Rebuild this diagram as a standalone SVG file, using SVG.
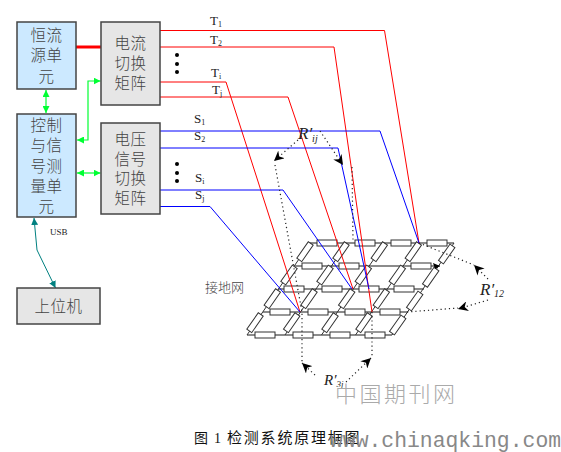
<svg xmlns="http://www.w3.org/2000/svg" width="561" height="452" viewBox="0 0 561 452">
<style>
text{font-family:"Liberation Serif","Noto Sans CJK SC",serif;fill:#222}
.cn{font-family:"Noto Sans CJK SC",sans-serif;font-size:15.500px;letter-spacing:0.500px;fill:#444;text-anchor:middle;font-weight:300}
.box{stroke:#444;stroke-width:1.5}
.blue{fill:#cce9ff}.gray{fill:#e6e6e6}
.lab{font-size:13px}
.sub{font-size:8px}
.r{font-size:17px;font-style:italic}
.rs{font-size:10px;font-style:italic}
.red{fill:none;stroke:#f00;stroke-width:1}
.blu{fill:none;stroke:#00f;stroke-width:1}
.grn{fill:none;stroke:#0f3;stroke-width:1.2;marker-start:url(#ga);marker-end:url(#ga)}
.dot{fill:none;stroke:#222;stroke-width:1.2;stroke-dasharray:1.2 3}
.dota{marker-end:url(#ba)}
.gl{stroke:#666;stroke-width:1.6}
.dl{stroke:#333;stroke-width:1}
.res{fill:#fff;stroke:#333;stroke-width:1}
</style>
<defs>
<marker id="ga" viewBox="0 0 10 10" refX="10" refY="5" markerUnits="userSpaceOnUse" markerWidth="7" markerHeight="7" orient="auto-start-reverse"><path d="M0 0L10 5L0 10Z" fill="#0f3"/></marker>
<marker id="ta" viewBox="0 0 10 10" refX="10" refY="5" markerUnits="userSpaceOnUse" markerWidth="7" markerHeight="7" orient="auto-start-reverse"><path d="M0 0L10 5L0 10Z" fill="#008080"/></marker>
<marker id="ba" viewBox="0 0 10 10" refX="10" refY="5" markerUnits="userSpaceOnUse" markerWidth="10" markerHeight="10" orient="auto"><path d="M0 0L10 5L0 10L3 5Z" fill="#000"/></marker>
<rect id="rh" x="-10" y="-3" width="20" height="6" class="res"/>
</defs>

<g id="grid">
<path class="gl" d="M310 243H454M295 266H440M278 289H424M263 312H408M247 335H392"/>
<path class="dl" d="M247 335L310 243M285 335L347 243M321.500 335L385 243M355.500 335L419 243M392 335L454 243"/>
<g id="resistors-h">
<use href="#rh" x="327" y="243"/><use href="#rh" x="365" y="243"/><use href="#rh" x="401" y="243"/><use href="#rh" x="437" y="243"/>
<use href="#rh" x="312" y="266"/><use href="#rh" x="349" y="266"/><use href="#rh" x="421" y="266"/>
<use href="#rh" x="294" y="289"/><use href="#rh" x="332" y="289"/><use href="#rh" x="369" y="289"/><use href="#rh" x="404" y="289"/>
<use href="#rh" x="280" y="312"/><use href="#rh" x="318" y="312"/><use href="#rh" x="355" y="312"/><use href="#rh" x="390" y="312"/>
<use href="#rh" x="265" y="335"/><use href="#rh" x="303" y="335"/><use href="#rh" x="340" y="335"/><use href="#rh" x="375" y="335"/>
</g>
<g id="resistors-d">
<use href="#rh" transform="translate(255 322.700) rotate(-55)"/><use href="#rh" transform="translate(272.300 298.700) rotate(-55)"/><use href="#rh" transform="translate(289 275) rotate(-55)"/><use href="#rh" transform="translate(305 251.700) rotate(-55)"/>
<use href="#rh" transform="translate(291.700 322.700) rotate(-55)"/><use href="#rh" transform="translate(309 298.700) rotate(-55)"/><use href="#rh" transform="translate(325 275) rotate(-55)"/><use href="#rh" transform="translate(341 251.700) rotate(-55)"/>
<use href="#rh" transform="translate(330 322.700) rotate(-55)"/><use href="#rh" transform="translate(346.700 298.700) rotate(-55)"/><use href="#rh" transform="translate(363.300 275) rotate(-55)"/><use href="#rh" transform="translate(379.300 251.700) rotate(-55)"/>
<use href="#rh" transform="translate(364 322.700) rotate(-55)"/><use href="#rh" transform="translate(381.300 298.700) rotate(-55)"/><use href="#rh" transform="translate(397.300 275) rotate(-55)"/><use href="#rh" transform="translate(413.300 251.700) rotate(-55)"/>
<use href="#rh" transform="translate(397.700 325) rotate(-55)"/><use href="#rh" transform="translate(414.700 301) rotate(-55)"/><use href="#rh" transform="translate(430.700 277.300) rotate(-55)"/><use href="#rh" transform="translate(446.700 254) rotate(-55)"/>
</g>
</g>

<g id="connectors">
<path class="red" d="M160 30.500H384.500L419 243"/>
<path class="red" d="M160 47H334L372 312"/>
<path class="red" d="M160 82H226L300 312"/>
<path class="red" d="M160 97H288L353 289"/>
<path class="blu" d="M160 131H380L419 243"/>
<path class="blu" d="M160 148H338L369 289"/>
<path class="blu" d="M160 190H283L352 289"/>
<path class="blu" d="M160 206.500H210L300 312"/>
<path fill="none" stroke="#f00" stroke-width="3" d="M76 47H102"/>
<path class="grn" d="M46 90V113"/>
<path class="grn" d="M100.500 81H88V140H77"/>
<path class="grn" d="M77 173H100.500"/>
<path fill="none" stroke="#008080" stroke-width="1" marker-start="url(#ta)" marker-end="url(#ta)" d="M34 218L37 250L55.500 288"/>
<path class="dot dota" d="M298 140L274 161"/>
<path class="dot" d="M275 165L302 312V362"/>
<path class="dot dota" d="M320 131L343 165"/>
<path class="dot" d="M352 167L353 240M372 312V358"/>
<path class="dot dota" d="M315 375L302 363"/>
<path class="dot dota" d="M346 382L371 358"/>
<path class="dot" d="M419 243L474 265M407 312L458 308"/>
<path class="dot dota" d="M488 279L474 265"/>
<path class="dot dota" d="M488 300L458 309"/>
<path fill="#000" d="M433 263L440 266L435 269Z"/>
</g>

<g id="n1"><rect class="box blue" x="17" y="22" width="59" height="67"/>
<text class="cn" x="46.500" y="41">恒流</text><text class="cn" x="46.500" y="61">源单</text><text class="cn" x="46.500" y="82">元</text></g>
<g id="n2"><rect class="box blue" x="17" y="114" width="59" height="103"/>
<text class="cn" x="46.500" y="131">控制</text><text class="cn" x="46.500" y="151">与信</text><text class="cn" x="46.500" y="172">号测</text><text class="cn" x="46.500" y="192">量单</text><text class="cn" x="46.500" y="212">元</text></g>
<g id="n3"><rect class="box gray" x="101" y="22" width="59" height="83"/>
<text class="cn" x="130.500" y="49">电流</text><text class="cn" x="130.500" y="69">切换</text><text class="cn" x="130.500" y="89">矩阵</text></g>
<g id="n4"><rect class="box gray" x="101" y="123" width="59" height="91"/>
<text class="cn" x="130.500" y="145">电压</text><text class="cn" x="130.500" y="165">信号</text><text class="cn" x="130.500" y="184">切换</text><text class="cn" x="130.500" y="204">矩阵</text></g>
<g id="n5"><rect class="box gray" x="17" y="288" width="83" height="36"/>
<text class="cn" x="58.500" y="312">上位机</text></g>

<g id="dots" fill="#000"><circle cx="177" cy="55" r="2"/><circle cx="177" cy="64" r="2"/><circle cx="177" cy="72" r="2"/><circle cx="177" cy="164" r="2"/><circle cx="177" cy="173" r="2"/><circle cx="177" cy="181" r="2"/></g>

<g id="labels">
<text class="lab" x="210" y="25">T<tspan class="sub" dy="2">1</tspan></text>
<text class="lab" x="210" y="44">T<tspan class="sub" dy="2">2</tspan></text>
<text class="lab" x="211" y="77">T<tspan class="sub" dy="2">i</tspan></text>
<text class="lab" x="212" y="94">T<tspan class="sub" dy="2">j</tspan></text>
<text class="lab" x="194" y="123">S<tspan class="sub" dy="2">1</tspan></text>
<text class="lab" x="194" y="140">S<tspan class="sub" dy="2">2</tspan></text>
<text class="lab" x="195" y="182">S<tspan class="sub" dy="2">i</tspan></text>
<text class="lab" x="195" y="199">S<tspan class="sub" dy="2">j</tspan></text>
<text x="50" y="235" font-size="9">USB</text>
<text x="205" y="292" style="font-family:'Noto Sans CJK SC',sans-serif;font-size:13px;fill:#444;font-weight:300">接地网</text>
<text class="r" x="298" y="139">R′<tspan class="rs" dy="3">ij</tspan></text>
<text class="r" x="480" y="295">R′<tspan class="rs" dy="2">12</tspan></text>
<text class="r" x="324" y="385" style="font-size:15px">R′<tspan class="rs" dy="2" style="font-size:9px">3j</tspan></text>
</g>

<g id="caption">
<text x="194" y="443" style="font-family:'Noto Sans CJK SC',sans-serif;font-size:14px;fill:#111;font-weight:400">图</text>
<text x="214" y="443" style="font-size:14px;fill:#111">1</text>
<text x="227" y="443" style="font-family:'Noto Sans CJK SC',sans-serif;font-size:15px;letter-spacing:1.800px;fill:#111;font-weight:400">检测系统原理框图</text>
</g>

<g id="watermark">
<text x="335" y="402" style="font-family:'Noto Sans CJK SC',sans-serif;font-size:22px;letter-spacing:2.500px;fill:#aaa;font-weight:300">中国期刊网</text>
<text x="330" y="447" style="font-family:'Liberation Mono',monospace;font-size:21.400px;fill:#888">www.chinaqking.com</text>
</g>
</svg>
